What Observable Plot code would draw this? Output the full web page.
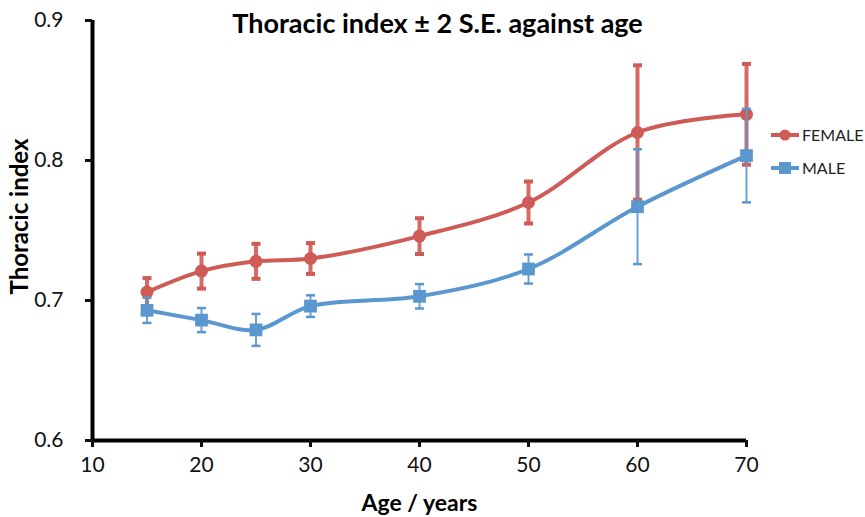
<!DOCTYPE html>
<html><head><meta charset="utf-8">
<script src="https://cdn.jsdelivr.net/npm/d3@7"></script>
<script src="https://cdn.jsdelivr.net/npm/@observablehq/plot@0.6"></script>
<style>
body{margin:0;background:#fff;font-family:Lato,"Open Sans",sans-serif;}
#wrap{position:relative;width:865px;height:517px;}
#legend{position:absolute;left:770px;top:118px;font-size:16px;color:#222;}
#legend .row{display:flex;align-items:center;height:33px;}
#legend svg{margin-right:2px;}
</style></head><body><div id="wrap"></div>
<script>
const ages = [15, 20, 25, 30, 40, 50, 60, 70];
const female = [0.706, 0.721, 0.728, 0.730, 0.746, 0.770, 0.820, 0.833];
const femaleErr = [0.010, 0.0125, 0.0125, 0.011, 0.0128, 0.015, 0.048, 0.036];
const male = [0.693, 0.686, 0.679, 0.696, 0.703, 0.7225, 0.767, 0.8035];
const maleErr = [0.009, 0.0086, 0.0114, 0.0077, 0.0087, 0.0104, 0.041, 0.0334];
const xTicks = [10, 20, 30, 40, 50, 60, 70];
const yTicks = [0.6, 0.7, 0.8, 0.9];
const seriesNames = ["FEMALE", "MALE"];
const colors = ["#cf5b56", "#5b97cf"];
const titleText = "Thoracic index \u00b1 2 S.E. against age";
const xLabel = "Age / years";
const yLabel = "Thoracic index";

const fRows = ages.map((a, i) => ({age: a, v: female[i], lo: female[i] - femaleErr[i], hi: female[i] + femaleErr[i]}));
const mRows = ages.map((a, i) => ({age: a, v: male[i], lo: male[i] - maleErr[i], hi: male[i] + maleErr[i]}));

const capSymbol = {draw(ctx, size) { const r = Math.sqrt(size / Math.PI); ctx.moveTo(-r, 0); ctx.lineTo(r, 0); }};

function seriesMarks(rows, color, isFemale) {
  const ew = isFemale ? 4 : 2;
  return [
    Plot.line(rows, {x: "age", y: "v", stroke: color, strokeWidth: 4, curve: "catmull-rom"}),
    Plot.ruleX(rows, {x: "age", y1: "lo", y2: "hi", stroke: color, strokeWidth: ew, strokeOpacity: 0.9}),
    Plot.dot(rows, {x: "age", y: "hi", symbol: capSymbol, r: 4.5, stroke: color, strokeWidth: isFemale ? 4 : 2.5, fill: "none"}),
    Plot.dot(rows, {x: "age", y: "lo", symbol: capSymbol, r: 4.5, stroke: color, strokeWidth: isFemale ? 4 : 2.5, fill: "none"}),
    isFemale
      ? Plot.dot(rows, {x: "age", y: "v", r: 6.5, fill: color, stroke: "none"})
      : Plot.dot(rows, {x: "age", y: "v", symbol: "square", r: 7.2, fill: color, stroke: "none"})
  ];
}

const chart = Plot.plot({
  width: 865, height: 517,
  marginLeft: 92, marginRight: 119, marginTop: 20, marginBottom: 77,
  style: {fontFamily: "Lato, 'Open Sans', sans-serif", fontSize: "21px", color: "#111", background: "#fff"},
  x: {domain: [10, 70]},
  y: {domain: [0.6, 0.9]},
  marks: [
    ...seriesMarks(fRows, colors[0], true),
    ...seriesMarks(mRows, colors[1], false),
    Plot.ruleX([10], {stroke: "#000", strokeWidth: 4}),
    Plot.ruleY([0.6], {stroke: "#000", strokeWidth: 4}),
    Plot.axisY({ticks: yTicks, tickFormat: d3.format(".1f"), tickSize: 7, tickPadding: 22, strokeWidth: 3, label: null, fontSize: 21}),
    Plot.axisX({ticks: xTicks, tickFormat: d => d, tickSize: 7, tickPadding: 10, strokeWidth: 3, label: null, fontSize: 21}),
    Plot.text([titleText], {frameAnchor: "top", dx: 18, dy: 4, fontWeight: "bold", fontSize: 27, textAnchor: "middle", lineAnchor: "middle", fill: "#000"}),
    Plot.text([xLabel], {frameAnchor: "bottom", dy: 63, fontWeight: "bold", fontSize: 23, textAnchor: "middle", lineAnchor: "middle", fill: "#000"}),
    Plot.text([yLabel], {frameAnchor: "left", dx: -72, dy: -14, rotate: -90, fontWeight: "bold", fontSize: 24, textAnchor: "middle", lineAnchor: "middle", fill: "#000"})
  ]
});

const wrap = document.getElementById("wrap");
wrap.appendChild(chart);

const legend = document.createElement("div");
legend.id = "legend";
seriesNames.forEach((name, i) => {
  const row = document.createElement("div");
  row.className = "row";
  const mk = i === 0
    ? `<circle cx="15" cy="8" r="5.5" fill="${colors[i]}"/>`
    : `<rect x="9" y="2" width="12" height="12" fill="${colors[i]}"/>`;
  row.innerHTML = `<svg width="30" height="16"><line x1="1" x2="29" y1="8" y2="8" stroke="${colors[i]}" stroke-width="4"/>${mk}</svg><span>${name}</span>`;
  legend.appendChild(row);
});
wrap.appendChild(legend);
</script>
</body></html>
